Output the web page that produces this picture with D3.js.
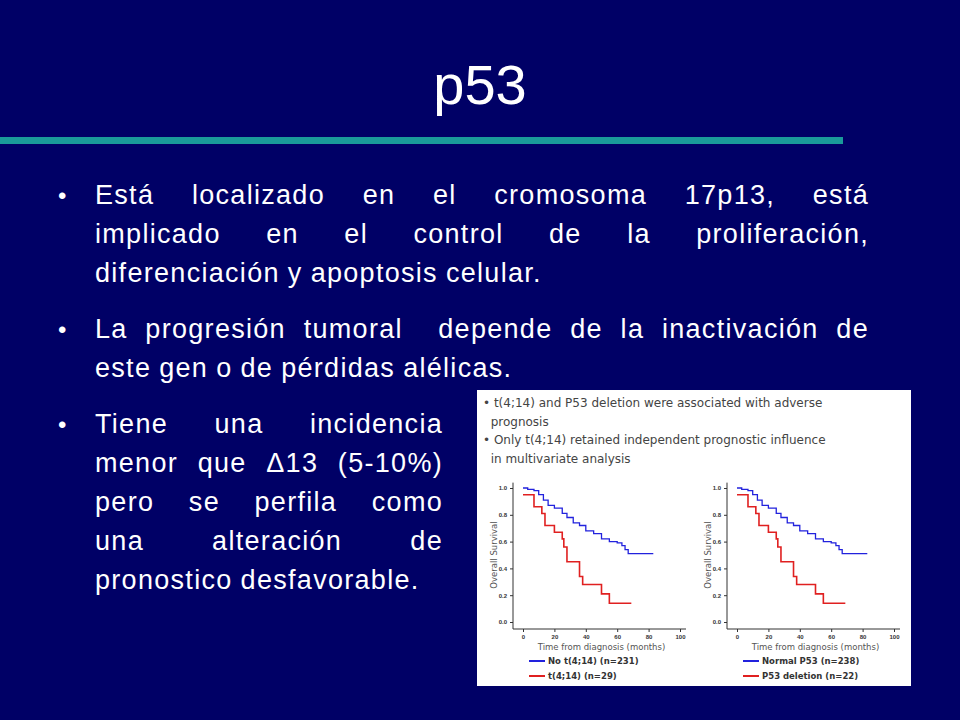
<!DOCTYPE html><html><head><meta charset="utf-8"><script src="https://d3js.org/d3.v7.min.js"></script>
<style>body{margin:0;background:#000066}</style></head><body><svg id="s" width="960" height="720"></svg><script>
const blueT=[0,3,7,10,13,16,20,25,28,32,36,40,45,50,55,60,63,65,67,83];
const blueS=[1.0,0.99,0.98,0.95,0.91,0.87,0.85,0.81,0.78,0.74,0.72,0.68,0.66,0.62,0.60,0.59,0.57,0.54,0.51,0.51];
const redT=[0,7,12,14,20,25,26,28,36,38,50,55,69];
const redS=[0.95,0.86,0.81,0.72,0.67,0.62,0.56,0.45,0.34,0.28,0.21,0.14,0.14];
const xTicks=[0,20,40,60,80,100];
const yTicks=[0,0.2,0.4,0.6,0.8,1.0];
const legends=[["No t(4;14) (n=231)","t(4;14) (n=29)"],["Normal P53 (n=238)","P53 deletion (n=22)"]];
const svg=d3.select("#s");
svg.append("rect").attr("width",960).attr("height",720).attr("fill","#000066");
svg.append("text").attr("x",480).attr("y",104).attr("text-anchor","middle").attr("fill","#fff").attr("font-family","Liberation Sans").attr("font-size",56).text("p53");
svg.append("rect").attr("x",0).attr("y",137).attr("width",843).attr("height",7).attr("fill","#1a9a9a");
function para(lines,x0,x1,y0,lh){
  lines.forEach((ln,i)=>{
    const y=y0+i*lh;const words=ln.split(" ");
    const g=svg.append("g");
    const ts=words.map(w=>g.append("text").attr("y",y).attr("fill","#fff").attr("font-family","Liberation Sans").attr("font-size",27).attr("letter-spacing",1.3).text(w));
    const ws=ts.map(t=>t.node().getComputedTextLength());
    const last=i===lines.length-1;
    const tot=d3.sum(ws);
    const gap=last||words.length<2?8:(x1-x0-tot)/(words.length-1);
    let x=x0;ts.forEach((t,k)=>{t.attr("x",x);x+=ws[k]+gap;});
  });
  svg.append("text").attr("x",x0-37).attr("y",y0).attr("fill","#fff").attr("font-family","Liberation Sans").attr("font-size",24).text("•");
}
para(["Está localizado en el cromosoma 17p13, está","implicado en el control de la proliferación,","diferenciación y apoptosis celular."],95,869,204,39);
para(["La progresión tumoral  depende de la inactivación de","este gen o de pérdidas alélicas."],95,869,338,39);
para(["Tiene una incidencia","menor que Δ13 (5-10%)","pero se perfila como","una alteración de","pronostico desfavorable."],95,443,433,39);
svg.append("rect").attr("x",477).attr("y",390).attr("width",434).attr("height",296).attr("fill","#fff");
const hdr=["• t(4;14) and P53 deletion were associated with adverse","  prognosis","• Only t(4;14) retained independent prognostic influence","  in multivariate analysis"];
hdr.forEach((h,i)=>svg.append("text").attr("x",483).attr("y",407+i*18.5).attr("fill","#444").attr("font-family","DejaVu Sans").attr("font-size",12).attr("xml:space","preserve").text(h));
function km(ox,x1,legs){
  const x=d3.scaleLinear().domain([0,100]).range([ox,x1]);
  const y=d3.scaleLinear().domain([0,1]).range([622,488]);
  const g=svg.append("g").attr("font-family","DejaVu Sans");
  const ax=g.append("g").attr("transform","translate(0,629)").call(d3.axisBottom(x).tickValues(xTicks).tickSize(3));
  const ay=g.append("g").attr("transform",`translate(${ox-10},0)`).call(d3.axisLeft(y).tickValues(yTicks).tickFormat(d3.format(".1f")).tickSize(3));
  [ax,ay].forEach(a=>{a.select(".domain").attr("d",a===ax?`M${ox-10},0H${x1+6}`:`M0,${y(1.04)}V629`).attr("stroke","#333");a.selectAll("text").attr("font-size",6).attr("fill","#333").attr("font-weight","bold");a.selectAll("line").attr("stroke","#333");});
  g.append("text").attr("x",(ox+x1)/2).attr("y",650).attr("text-anchor","middle").attr("font-size",8.5).attr("fill","#555").text("Time from diagnosis (months)");
  g.append("text").attr("transform",`translate(${ox-26},555) rotate(-90)`).attr("text-anchor","middle").attr("font-size",8.5).attr("fill","#555").text("Overall Survival");
  const line=d3.line().x(d=>x(d[0])).y(d=>y(d[1])).curve(d3.curveStepAfter);
  g.append("path").attr("d",line(blueT.map((t,i)=>[t,blueS[i]]))).attr("fill","none").attr("stroke","#2222dd").attr("stroke-width",1.3);
  g.append("path").attr("d",line(redT.map((t,i)=>[t,redS[i]]))).attr("fill","none").attr("stroke","#e02020").attr("stroke-width",1.6);
  [["#2222dd",legs[0]],["#e02020",legs[1]]].forEach((l,i)=>{
    const ly=664+i*15;
    g.append("line").attr("x1",ox+6).attr("x2",ox+22).attr("y1",ly-3).attr("y2",ly-3).attr("stroke",l[0]).attr("stroke-width",2);
    g.append("text").attr("x",ox+25).attr("y",ly).attr("font-size",8.5).attr("font-weight","bold").attr("fill","#333").text(l[1]);
  });
}
km(523,680,legends[0]);km(737,894,legends[1]);
</script></body></html>
